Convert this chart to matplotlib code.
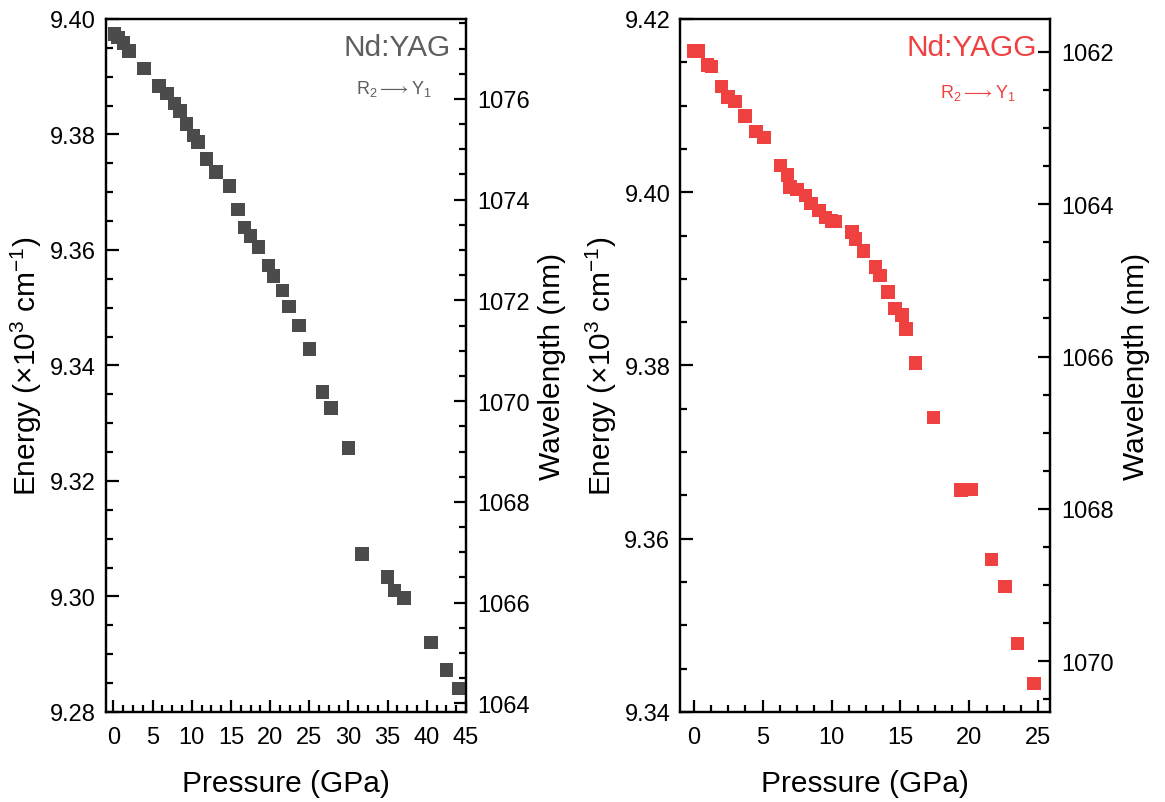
import matplotlib
matplotlib.use("Agg")
import matplotlib.pyplot as plt
from matplotlib.ticker import MultipleLocator, FormatStrFormatter

plt.rcParams["font.family"] = ["Liberation Sans", "DejaVu Sans"]
plt.rcParams["mathtext.fontset"] = "custom"
plt.rcParams["mathtext.rm"] = "Liberation Sans"
plt.rcParams["mathtext.it"] = "Liberation Sans:italic"
plt.rcParams["mathtext.bf"] = "Liberation Sans:bold"

# ── Nd:YAG (R2 -> Y1) ───────────────────────────────────────────────────────
yag_pressure = [0.1, 0.6, 1.3, 2.0, 3.9, 5.8, 6.8, 7.8, 8.5, 9.3, 10.2, 10.8,
                11.9, 13.1, 14.8, 15.9, 16.7, 17.5, 18.5, 19.8, 20.4, 21.6,
                22.4, 23.7, 25.0, 26.7, 27.8, 30.0, 31.7, 35.0, 35.9, 37.1,
                40.5, 42.5, 44.1]
yag_energy = [9.3974, 9.3968, 9.3958, 9.3945, 9.3914, 9.3884, 9.3871, 9.3854,
              9.3841, 9.3818, 9.3798, 9.3787, 9.3758, 9.3735, 9.3711, 9.3670,
              9.3639, 9.3624, 9.3605, 9.3573, 9.3555, 9.3530, 9.3502, 9.3469,
              9.3429, 9.3354, 9.3326, 9.3257, 9.3074, 9.3034, 9.3010, 9.2997,
              9.2920, 9.2873, 9.2841]

# ── Nd:YAGG (R2 -> Y1) ──────────────────────────────────────────────────────
yagg_pressure = [0.0, 0.3, 1.0, 1.3, 2.0, 2.5, 3.0, 3.7, 4.5, 5.1, 6.3, 6.8,
                 7.0, 7.5, 8.1, 8.5, 9.1, 9.55, 10.0, 10.3, 11.5, 11.75, 12.3,
                 13.2, 13.5, 14.1, 14.6, 15.1, 15.4, 16.1, 17.4, 19.4, 20.1,
                 21.6, 22.6, 23.5, 24.7]
yagg_energy = [9.4163, 9.4163, 9.4147, 9.4145, 9.4122, 9.4110, 9.4105, 9.4088,
               9.4070, 9.4063, 9.4031, 9.4020, 9.4006, 9.4003, 9.3996, 9.3987,
               9.3979, 9.3971, 9.3967, 9.3966, 9.3954, 9.3946, 9.3932, 9.3914,
               9.3904, 9.3885, 9.3866, 9.3858, 9.3842, 9.3803, 9.3740, 9.3656,
               9.3657, 9.3576, 9.3545, 9.3479, 9.3433]

GRAY = "#4b4b4b"
RED = "#f04141"
TEXT_GRAY = "#5e5e5e"

TICK_FS = 17
LABEL_FS = 21.5


def style_axes(ax, ax2):
    for a in (ax, ax2):
        for spine in a.spines.values():
            spine.set_linewidth(1.6)
    ax.tick_params(axis="both", which="both", direction="in", top=False,
                   right=False, labelsize=TICK_FS, width=1.6)
    ax.tick_params(axis="both", which="major", length=9)
    ax.tick_params(axis="both", which="minor", length=5)
    ax.tick_params(axis="y", pad=7)
    ax.tick_params(axis="x", pad=10)
    ax2.tick_params(axis="y", which="both", direction="in", labelsize=TICK_FS,
                    width=1.6, pad=8)
    ax2.tick_params(axis="y", which="major", length=9)
    ax2.tick_params(axis="y", which="minor", length=5)


def draw_panel(rect, pressure, energy, color, xlim, elim, wl_lim, name,
               name_color, name_xy, trans_xy):
    ax = fig.add_axes(rect)
    ax.scatter(pressure, energy, marker="s", s=95, color=color,
               edgecolors="none", zorder=3)
    ax.set_xlim(*xlim)
    ax.set_ylim(*elim)
    ax.xaxis.set_major_locator(MultipleLocator(5))
    ax.xaxis.set_minor_locator(MultipleLocator(1.25))
    ax.yaxis.set_major_locator(MultipleLocator(0.02))
    ax.yaxis.set_minor_locator(MultipleLocator(0.005))
    ax.yaxis.set_major_formatter(FormatStrFormatter("%.2f"))
    ax.set_xlabel("Pressure (GPa)", fontsize=LABEL_FS, labelpad=15)
    ax.set_ylabel(r"Energy ($\times$10$^3$ cm$^{-1}$)", fontsize=LABEL_FS,
                  labelpad=4)

    ax2 = ax.twinx()
    ax2.set_ylim(*wl_lim)
    ax2.yaxis.set_major_locator(MultipleLocator(2))
    ax2.yaxis.set_minor_locator(MultipleLocator(0.5))
    ax2.set_ylabel("Wavelength (nm)", fontsize=LABEL_FS, labelpad=6)

    style_axes(ax, ax2)

    ax.text(name_xy[0], name_xy[1], name, transform=ax.transAxes,
            fontsize=21.5, color=name_color, ha="right", va="center")
    ax.text(trans_xy[0], trans_xy[1], r"R$_2$$\longrightarrow$Y$_1$",
            transform=ax.transAxes, fontsize=13, color=name_color,
            ha="center", va="center")
    return ax, ax2


fig = plt.figure(figsize=(11.65, 8.03), dpi=100)

# left panel: wavelength axis as in the original (not inverted)
draw_panel([0.0907, 0.1121, 0.3093, 0.863], yag_pressure, yag_energy, GRAY,
           (-1, 45), (9.28, 9.40), (1e4 / 9.40, 1e4 / 9.28),
           "Nd:YAG", TEXT_GRAY, (0.957, 0.96), (0.80, 0.9))

# right panel: wavelength axis inverted
draw_panel([0.5837, 0.1121, 0.3176, 0.863], yagg_pressure, yagg_energy, RED,
           (-1, 25.85), (9.34, 9.42), (1e4 / 9.34, 1e4 / 9.42),
           "Nd:YAGG", RED, (0.965, 0.96), (0.805, 0.895))

fig.savefig("out.png", dpi=100)
